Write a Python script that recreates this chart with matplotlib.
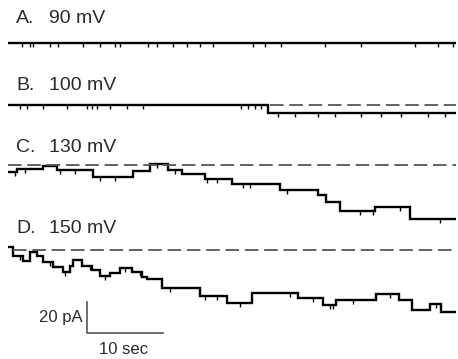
import numpy as np
import matplotlib.pyplot as plt

plt.rcParams['font.family'] = ['Liberation Sans', 'DejaVu Sans']

# Trace labels
letters = ['A.', 'B.', 'C.', 'D.']
voltages = ['90 mV', '100 mV', '130 mV', '150 mV']

# step edges (sec) and current levels (pA, relative to closed baseline)
a_edges = [0, 58.9]
a_levels = [0.0]
b_edges = [0, 34.2, 58.9]
b_levels = [0.0, -5.2]
c_edges = [0, 1.2, 4.6, 6.4, 11.2, 16.4, 18.7, 21.1, 22.9, 25.9, 29.5,
           35.8, 40.8, 41.8, 43.7, 48.3, 52.9, 58.9]
c_levels = [-4.5, -2.6, -0.6, -3.2, -7.7, -3.9, 0.6, -3.2, -5.8, -9.0,
            -12.3, -16.1, -19.4, -23.9, -29.7, -27.1, -34.8]
d_edges = [0, 0.66, 1.97, 2.89, 3.82, 4.61, 5.92, 7.24, 8.16, 8.55, 9.74,
           11.05, 12.11, 13.42, 14.74, 16.32, 17.63, 18.29, 20.26, 25.26,
           28.82, 32.11, 38.16, 41.45, 43.16, 48.42, 51.45, 53.16, 55.53,
           56.97, 58.95]
d_levels = [1.9, -3.9, -7.1, -1.3, -3.9, -7.7, -11.0, -14.2, -10.3, -6.5,
            -10.3, -12.9, -16.8, -14.8, -11.6, -14.2, -17.4, -18.7, -24.5,
            -29.7, -34.2, -27.7, -31.0, -35.5, -32.3, -28.4, -32.3, -38.7,
            -34.8, -40.0]

# brief openings (sec)
a_spikes = [1.8, 2.9, 3.3, 5.5, 6.6, 9.9, 12.1, 14.1, 14.7, 18.4, 19.6, 21.7,
            23.6, 25.3, 27.0, 32.2, 33.8, 35.9, 41.7, 46.4, 53.6, 56.6, 58.6]
b_spikes = [1.6, 2.5, 4.6, 7.8, 10.4, 11.1, 11.7, 13.4, 15.7, 17.8, 30.7,
            31.6, 32.5, 33.3, 35.5, 37.8, 40.8, 43.0, 46.4, 49.1, 51.7, 55.3,
            57.5]
c_spikes = [0.9, 2.2, 6.8, 8.8, 12.1, 14.1, 19.6, 22.0, 26.2, 27.5, 30.9,
            31.8, 36.7, 46.3, 48.0, 51.6, 56.8]
d_spikes = [1.6, 5.5, 7.5, 10.8, 12.8, 15.4, 17.4, 21.3, 25.9, 27.5, 30.5,
            37.1, 40.1, 42.4, 42.8, 45.4, 50.3, 56.3]

dash_start = [None, 34.5, 0.0, 0.6]

traces = [(a_edges, a_levels, a_spikes),
          (b_edges, b_levels, b_spikes),
          (c_edges, c_levels, c_spikes),
          (d_edges, d_levels, d_spikes)]
offsets = [-27.7, -67.7, -106.5, -161.3]
label_y = [-15.0, -58.1, -98.1, -150.3]

fig = plt.figure(figsize=(4.58, 3.59), dpi=100)
ax = fig.add_axes([0, 0, 1, 1])
ax.set_xlim(-1.05, 59.2)
ax.set_ylim(-231.6, 0)
ax.axis('off')

for i, (edges, levels, spikes) in enumerate(traces):
    off = offsets[i]
    lv = np.array(levels) + off
    ax.stairs(lv, edges, baseline=None, color='black', lw=1.7)
    idx = np.clip(np.searchsorted(edges, spikes) - 1, 0, len(levels) - 1)
    base = lv[idx]
    ax.vlines(spikes, base, base - 2.4, color='black', lw=1.0)
    if dash_start[i] is not None:
        ax.plot([dash_start[i], edges[-1]], [off, off], color='#555555',
                lw=1.3, linestyle=(0, (7.5, 3.2)))
    ax.text(1.05, label_y[i], letters[i], fontsize=14, color='#2a2a2a',
            va='baseline', ha='left')
    ax.text(5.4, label_y[i], voltages[i], fontsize=14, color='#2a2a2a',
            va='baseline', ha='left')

# scale bar
bar_t, bar_y = 10.4, -214.8
ax.plot([bar_t, bar_t, bar_t + 10], [bar_y + 20, bar_y, bar_y],
        color='#555555', lw=1.2)
ax.text(bar_t - 0.6, bar_y + 10, '20 pA', fontsize=12, color='#2a2a2a',
        ha='right', va='center')
ax.text(bar_t + 4.8, bar_y - 10.5, '10 sec', fontsize=12, color='#2a2a2a',
        ha='center', va='center')

fig.savefig('out.png', dpi=100)
